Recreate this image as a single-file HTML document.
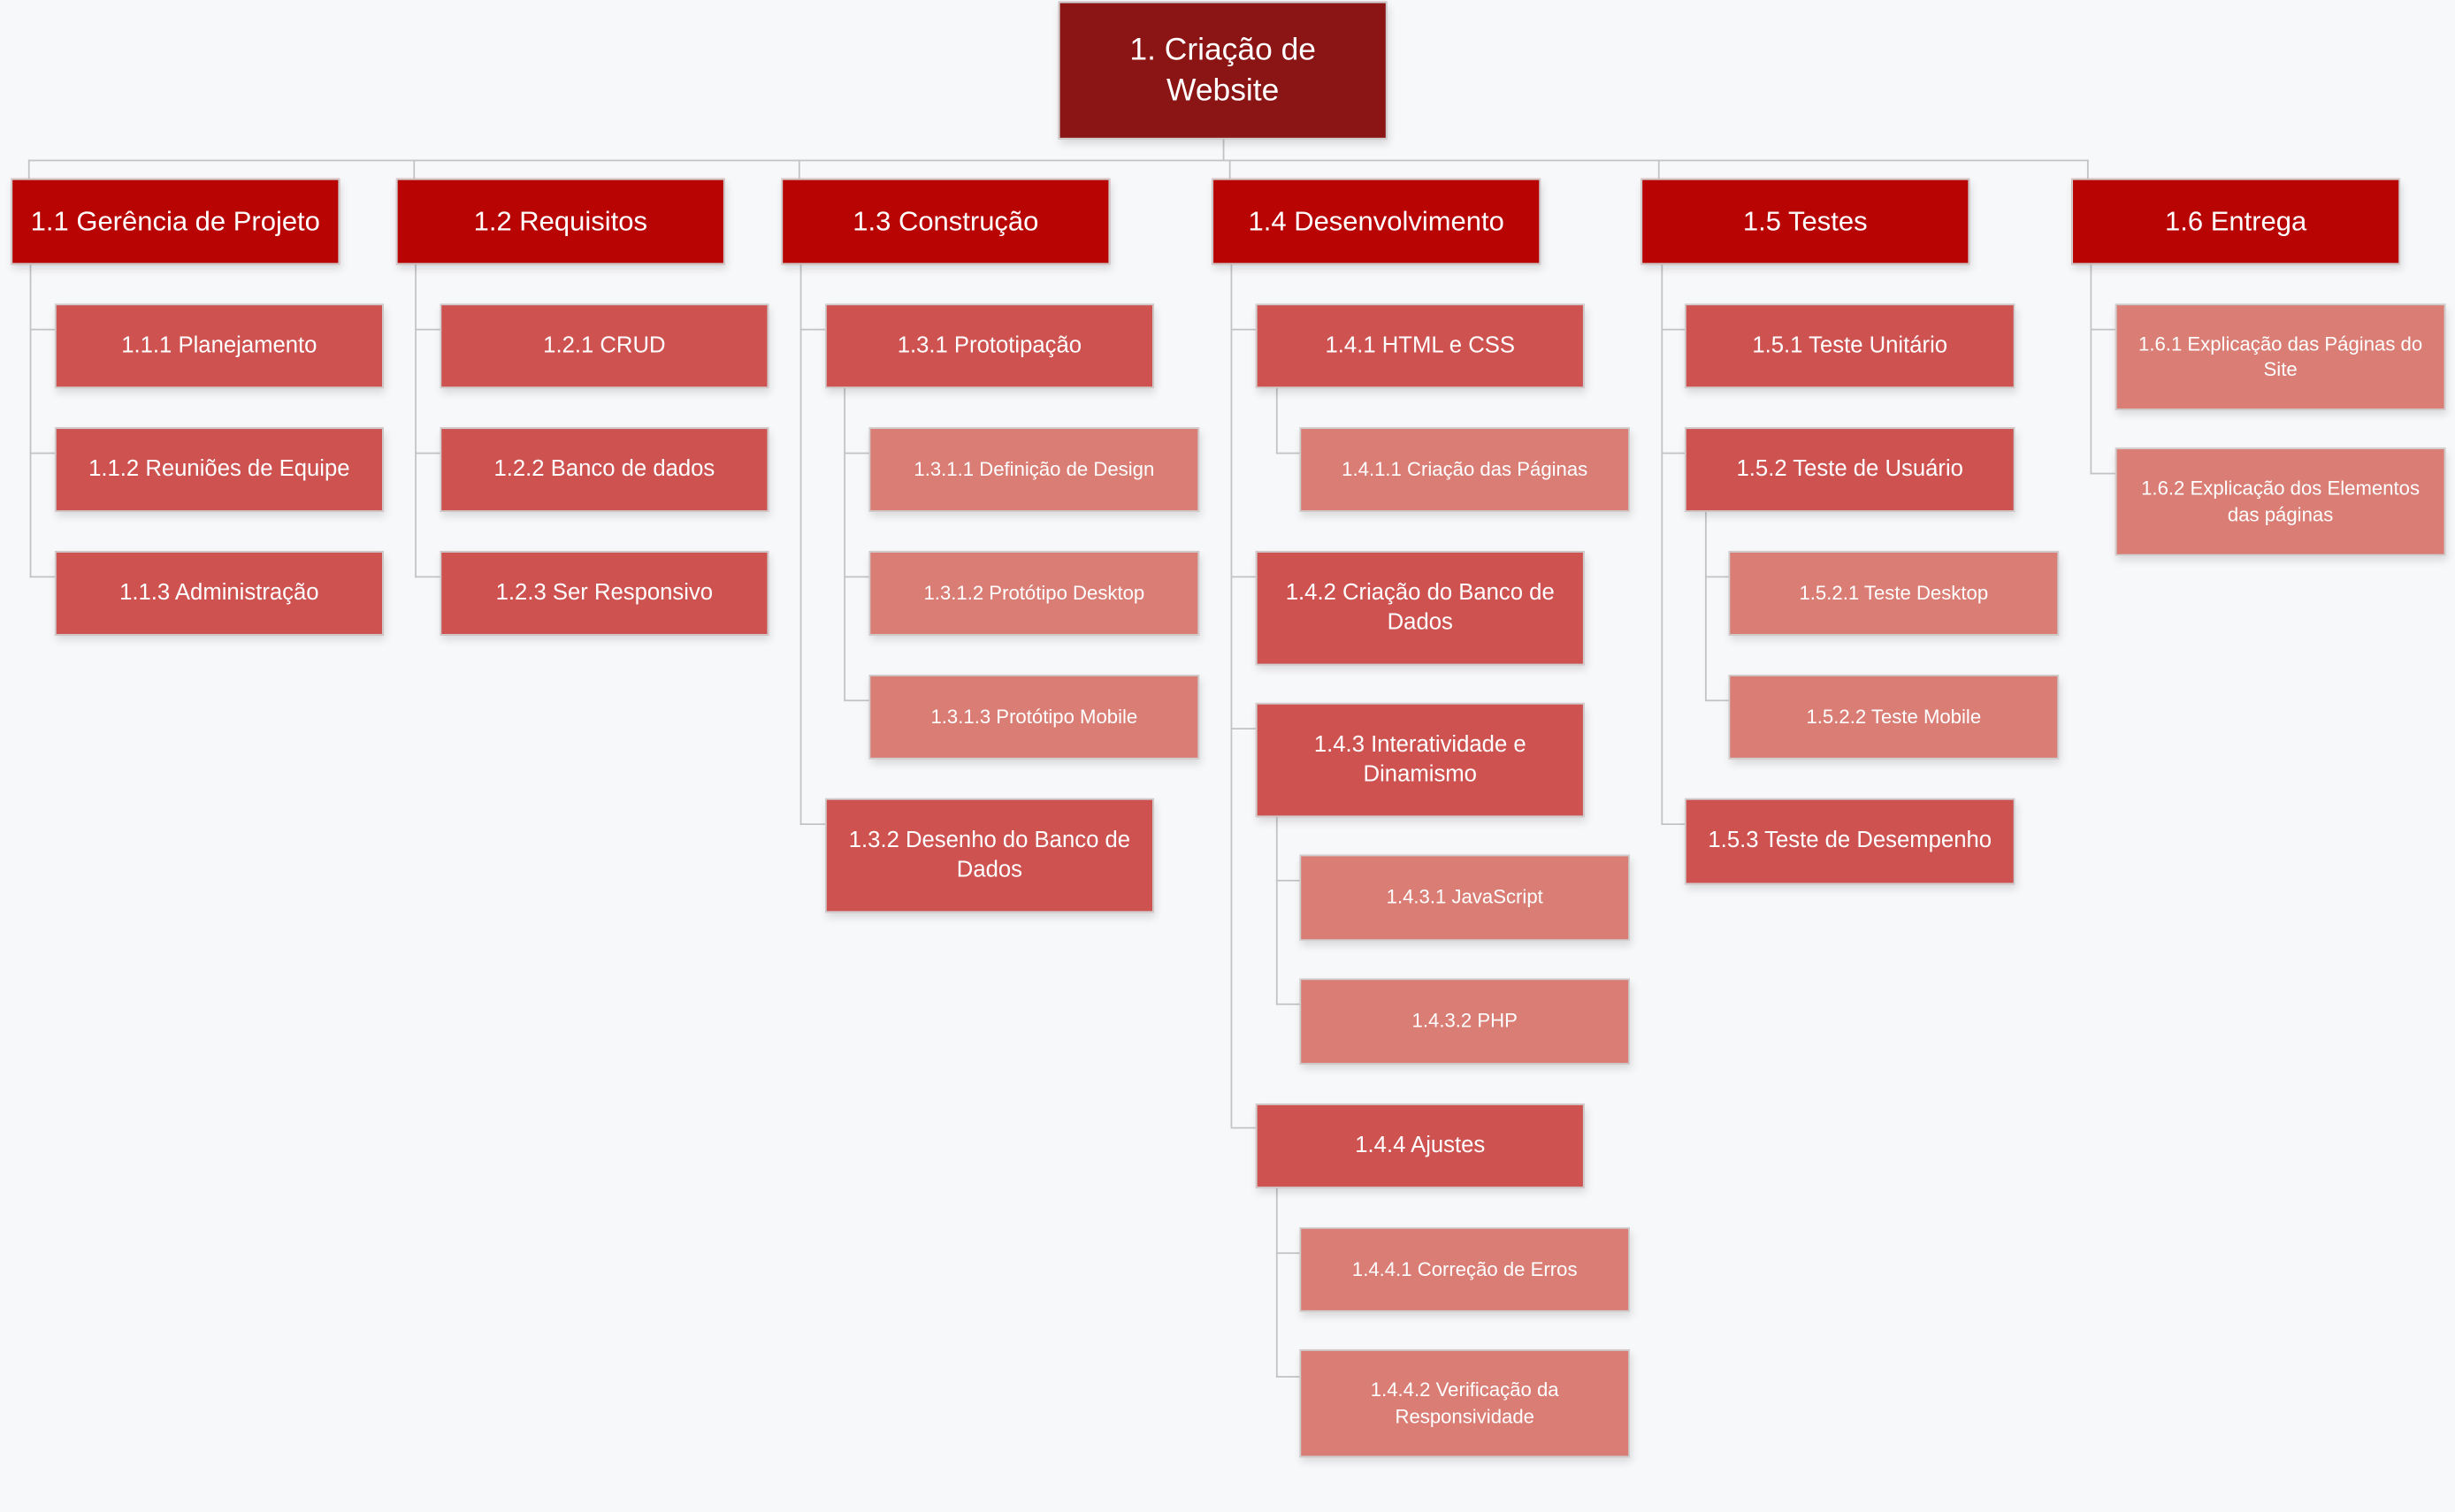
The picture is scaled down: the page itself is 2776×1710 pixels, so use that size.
<!DOCTYPE html>
<html><head><meta charset="utf-8"><style>
html,body{margin:0;padding:0;background:#f7f8fa;}
#c{position:relative;width:1568px;height:966px;transform:scale(1.77041);transform-origin:0 0;font-family:"Liberation Sans",sans-serif;}
.b{position:absolute;box-sizing:border-box;border:1px solid #cfcfcf;color:#fff;display:flex;align-items:center;justify-content:center;text-align:center;box-shadow:1px 3px 5px rgba(0,0,0,0.12);line-height:1.3;padding:0 6px;}
.r{background:#8b1414;font-size:20px;}
.l1{background:#b90404;font-size:17.5px;}
.l2{background:#cd5250;font-size:14.5px;}
.l3{background:#d97d75;font-size:12.5px;}
.h,.v{position:absolute;background:#c3c3c3;}
.h{height:1px}.v{width:1px}
</style></head><body><div id="c">
<!-- lines -->
<div class="v" style="left:781px;top:89px;height:13px"></div>
<div class="h" style="left:18px;top:102px;width:1316px"></div>
<div class="v" style="left:18px;top:102px;height:12px"></div>
<div class="v" style="left:264px;top:102px;height:12px"></div>
<div class="v" style="left:510px;top:102px;height:12px"></div>
<div class="v" style="left:785px;top:102px;height:12px"></div>
<div class="v" style="left:1059px;top:102px;height:12px"></div>
<div class="v" style="left:1333px;top:102px;height:12px"></div>
<!-- col1 -->
<div class="v" style="left:19px;top:169px;height:200px"></div>
<div class="h" style="left:19px;top:210px;width:16px"></div>
<div class="h" style="left:19px;top:289px;width:16px"></div>
<div class="h" style="left:19px;top:368px;width:16px"></div>
<!-- col2 -->
<div class="v" style="left:265px;top:169px;height:200px"></div>
<div class="h" style="left:265px;top:210px;width:16px"></div>
<div class="h" style="left:265px;top:289px;width:16px"></div>
<div class="h" style="left:265px;top:368px;width:16px"></div>
<!-- col3 -->
<div class="v" style="left:511px;top:169px;height:358px"></div>
<div class="h" style="left:511px;top:210px;width:16px"></div>
<div class="h" style="left:511px;top:526px;width:16px"></div>
<div class="v" style="left:539px;top:248px;height:200px"></div>
<div class="h" style="left:539px;top:289px;width:16px"></div>
<div class="h" style="left:539px;top:368px;width:16px"></div>
<div class="h" style="left:539px;top:447px;width:16px"></div>
<!-- col4 -->
<div class="v" style="left:786px;top:169px;height:551px"></div>
<div class="h" style="left:786px;top:210px;width:16px"></div>
<div class="h" style="left:786px;top:368px;width:16px"></div>
<div class="h" style="left:786px;top:465px;width:16px"></div>
<div class="h" style="left:786px;top:720px;width:16px"></div>
<div class="v" style="left:815px;top:248px;height:41px"></div>
<div class="h" style="left:815px;top:289px;width:15px"></div>
<div class="v" style="left:815px;top:522px;height:120px"></div>
<div class="h" style="left:815px;top:562px;width:15px"></div>
<div class="h" style="left:815px;top:641px;width:15px"></div>
<div class="v" style="left:815px;top:759px;height:121px"></div>
<div class="h" style="left:815px;top:800px;width:15px"></div>
<div class="h" style="left:815px;top:879px;width:15px"></div>
<!-- col5 -->
<div class="v" style="left:1061px;top:169px;height:358px"></div>
<div class="h" style="left:1061px;top:210px;width:15px"></div>
<div class="h" style="left:1061px;top:289px;width:15px"></div>
<div class="h" style="left:1061px;top:526px;width:15px"></div>
<div class="v" style="left:1089px;top:327px;height:121px"></div>
<div class="h" style="left:1089px;top:368px;width:15px"></div>
<div class="h" style="left:1089px;top:447px;width:15px"></div>
<!-- col6 -->
<div class="v" style="left:1335px;top:169px;height:134px"></div>
<div class="h" style="left:1335px;top:210px;width:16px"></div>
<div class="h" style="left:1335px;top:302px;width:16px"></div>

<!-- boxes -->
<div class="b r" style="left:676px;top:1px;width:210px;height:88px">1. Criação de<br>Website</div>

<div class="b l1" style="left:7px;top:114px;width:210px;height:55px">1.1 Gerência de Projeto</div>
<div class="b l1" style="left:253px;top:114px;width:210px;height:55px">1.2 Requisitos</div>
<div class="b l1" style="left:499px;top:114px;width:210px;height:55px">1.3 Construção</div>
<div class="b l1" style="left:774px;top:114px;width:210px;height:55px">1.4 Desenvolvimento</div>
<div class="b l1" style="left:1048px;top:114px;width:210px;height:55px">1.5 Testes</div>
<div class="b l1" style="left:1323px;top:114px;width:210px;height:55px">1.6 Entrega</div>

<div class="b l2" style="left:35px;top:194px;width:210px;height:54px">1.1.1 Planejamento</div>
<div class="b l2" style="left:35px;top:273px;width:210px;height:54px">1.1.2 Reuniões de Equipe</div>
<div class="b l2" style="left:35px;top:352px;width:210px;height:54px">1.1.3 Administração</div>

<div class="b l2" style="left:281px;top:194px;width:210px;height:54px">1.2.1 CRUD</div>
<div class="b l2" style="left:281px;top:273px;width:210px;height:54px">1.2.2 Banco de dados</div>
<div class="b l2" style="left:281px;top:352px;width:210px;height:54px">1.2.3 Ser Responsivo</div>

<div class="b l2" style="left:527px;top:194px;width:210px;height:54px">1.3.1 Prototipação</div>
<div class="b l3" style="left:555px;top:273px;width:211px;height:54px">1.3.1.1 Definição de Design</div>
<div class="b l3" style="left:555px;top:352px;width:211px;height:54px">1.3.1.2 Protótipo Desktop</div>
<div class="b l3" style="left:555px;top:431px;width:211px;height:54px">1.3.1.3 Protótipo Mobile</div>
<div class="b l2" style="left:527px;top:510px;width:210px;height:73px">1.3.2 Desenho do Banco de Dados</div>

<div class="b l2" style="left:802px;top:194px;width:210px;height:54px">1.4.1 HTML e CSS</div>
<div class="b l3" style="left:830px;top:273px;width:211px;height:54px">1.4.1.1 Criação das Páginas</div>
<div class="b l2" style="left:802px;top:352px;width:210px;height:73px">1.4.2 Criação do Banco de Dados</div>
<div class="b l2" style="left:802px;top:449px;width:210px;height:73px">1.4.3 Interatividade e Dinamismo</div>
<div class="b l3" style="left:830px;top:546px;width:211px;height:55px">1.4.3.1 JavaScript</div>
<div class="b l3" style="left:830px;top:625px;width:211px;height:55px">1.4.3.2 PHP</div>
<div class="b l2" style="left:802px;top:705px;width:210px;height:54px">1.4.4 Ajustes</div>
<div class="b l3" style="left:830px;top:784px;width:211px;height:54px">1.4.4.1 Correção de Erros</div>
<div class="b l3" style="left:830px;top:862px;width:211px;height:69px">1.4.4.2 Verificação da<br>Responsividade</div>

<div class="b l2" style="left:1076px;top:194px;width:211px;height:54px">1.5.1 Teste Unitário</div>
<div class="b l2" style="left:1076px;top:273px;width:211px;height:54px">1.5.2 Teste de Usuário</div>
<div class="b l3" style="left:1104px;top:352px;width:211px;height:54px">1.5.2.1 Teste Desktop</div>
<div class="b l3" style="left:1104px;top:431px;width:211px;height:54px">1.5.2.2 Teste Mobile</div>
<div class="b l2" style="left:1076px;top:510px;width:211px;height:55px">1.5.3 Teste de Desempenho</div>

<div class="b l3" style="left:1351px;top:194px;width:211px;height:68px">1.6.1 Explicação das Páginas do Site</div>
<div class="b l3" style="left:1351px;top:286px;width:211px;height:69px">1.6.2 Explicação dos Elementos das páginas</div>
</div></body></html>
